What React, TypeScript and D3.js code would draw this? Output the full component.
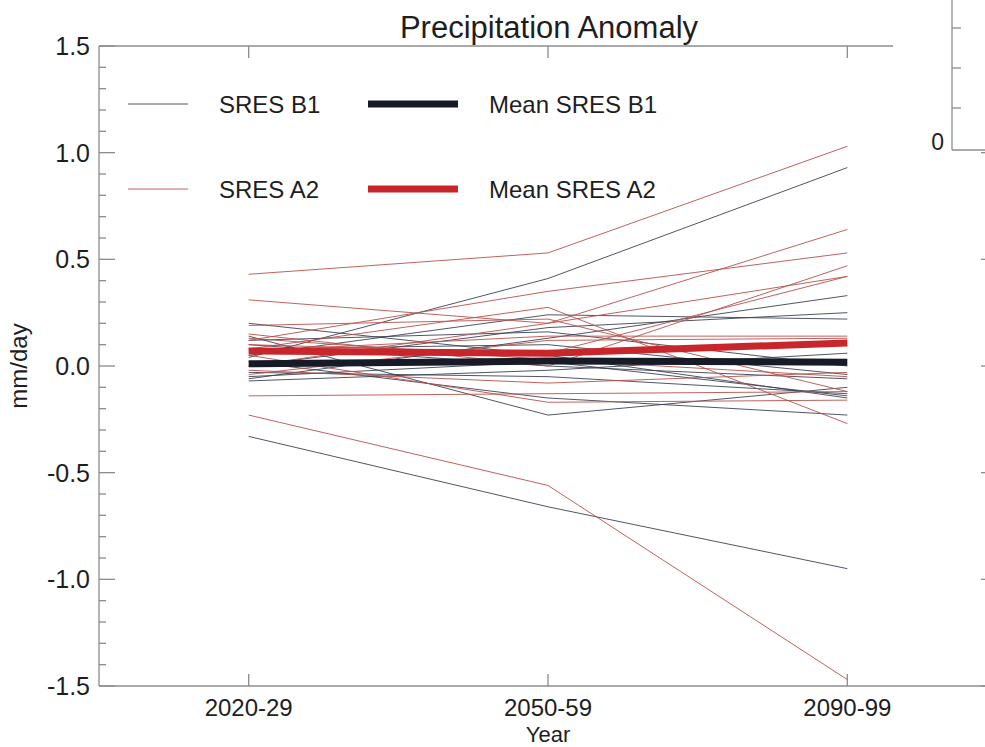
import React from "react";
import * as d3 from "d3";

const periods = ["2020-29", "2050-59", "2090-99"];
const yMajorTicks = [-1.5, -1.0, -0.5, 0.0, 0.5, 1.0, 1.5];

// Individual model runs, SRES B1 (mm/day at each period)
const b1Runs: number[][] = [
  [0.04, 0.41, 0.93],
  [-0.33, -0.66, -0.95],
  [0.2, 0.05, -0.15],
  [0.14, -0.23, -0.1],
  [-0.06, 0.13, 0.33],
  [0.0, 0.18, 0.25],
  [0.05, 0.24, 0.22],
  [-0.07, -0.02, 0.06],
  [0.08, 0.1, -0.04],
  [-0.03, -0.05, -0.13],
  [0.02, -0.15, -0.23],
  [0.1, 0.0, -0.06],
  [-0.05, 0.02, -0.14],
  [0.12, 0.16, 0.0],
];

// Individual model runs, SRES A2
const a2Runs: number[][] = [
  [0.43, 0.53, 1.03],
  [0.31, 0.2, 0.42],
  [-0.23, -0.56, -1.47],
  [0.08, 0.275, -0.27],
  [0.12, 0.35, 0.53],
  [0.0, 0.2, 0.64],
  [-0.14, -0.13, -0.12],
  [0.15, 0.0, 0.47],
  [0.05, -0.17, -0.16],
  [-0.04, 0.12, 0.13],
  [0.1, 0.06, 0.42],
  [0.13, 0.03, -0.05],
  [-0.02, -0.08, -0.03],
  [0.19, 0.22, -0.12],
  [0.07, 0.14, 0.14],
];

const meanB1 = [0.01, 0.023, 0.018];
const meanA2 = [0.07, 0.06, 0.108];

const insetTicks = [28, 68, 108];

export default function App() {
  const W = 985;
  const H = 747;
  const x = d3.scaleLinear().domain([-0.5, 2.5]).range([99, 997]);
  const y = d3.scaleLinear().domain([-1.5, 1.5]).range([686, 46]);
  const line = d3
    .line<number>()
    .x((_, i) => x(i))
    .y((v) => y(v));

  const minorTicks = d3
    .range(-15, 16)
    .map((v) => v / 10)
    .filter((v) => Math.abs(v * 2 - Math.round(v * 2)) > 1e-6);

  const axisColor = "#8c8c8c";
  const textColor = "#1e1e1e";
  const font = "'Liberation Sans', Arial, Helvetica, sans-serif";
  const b1Color = "#3c4354";
  const a2Color = "#b9504c";
  const meanB1Color = "#171b27";
  const meanA2Color = "#c8262a";

  return (
    <svg
      width={W}
      height={H}
      style={{ position: "absolute", left: 0, top: 0, background: "#fff" }}
      fontFamily={font}
    >
      <rect x={0} y={0} width={W} height={H} fill="#fff" />
      {/* title */}
      <text x={549} y={38} textAnchor="middle" fontSize={31} fill={textColor}>
        Precipitation Anomaly
      </text>

      {/* data lines */}
      <g fill="none">
        {b1Runs.map((r, i) => (
          <path key={"b" + i} d={line(r) || ""} stroke={b1Color} strokeWidth={0.9} />
        ))}
        {a2Runs.map((r, i) => (
          <path key={"a" + i} d={line(r) || ""} stroke={a2Color} strokeWidth={0.9} />
        ))}
        <path d={line(meanB1) || ""} stroke={meanB1Color} strokeWidth={7} />
        <path d={line(meanA2) || ""} stroke={meanA2Color} strokeWidth={7} />
      </g>

      {/* frame */}
      <g stroke={axisColor} strokeWidth={1.3} fill="none">
        <line x1={x(-0.5)} x2={x(-0.5)} y1={y(1.5)} y2={y(-1.5)} />
        <line x1={x(-0.5)} x2={W} y1={y(-1.5)} y2={y(-1.5)} />
        <line x1={x(-0.5)} x2={x(2.5)} y1={y(1.5)} y2={y(1.5)} />
        <line x1={x(2.5)} x2={x(2.5)} y1={y(1.5)} y2={y(-1.5)} />
        {yMajorTicks.map((t) => (
          <g key={"ym" + t}>
            <line x1={x(-0.5)} x2={x(-0.5) + 16} y1={y(t)} y2={y(t)} />
            <line x1={x(2.5)} x2={x(2.5) - 16} y1={y(t)} y2={y(t)} />
          </g>
        ))}
        {minorTicks.map((t) => (
          <g key={"yn" + t}>
            <line x1={x(-0.5)} x2={x(-0.5) + 7} y1={y(t)} y2={y(t)} />
            <line x1={x(2.5)} x2={x(2.5) - 7} y1={y(t)} y2={y(t)} />
          </g>
        ))}
        {periods.map((p, i) => (
          <g key={"xt" + p}>
            <line x1={x(i)} x2={x(i)} y1={y(-1.5)} y2={y(-1.5) - 12} />
            <line x1={x(i)} x2={x(i)} y1={y(1.5)} y2={y(1.5) + 12} />
          </g>
        ))}
      </g>

      {/* y tick labels */}
      {yMajorTicks.map((t) => (
        <text
          key={"yl" + t}
          x={90}
          y={y(t)}
          dy="0.36em"
          textAnchor="end"
          fontSize={25}
          fill={textColor}
        >
          {t.toFixed(1)}
        </text>
      ))}
      {/* x tick labels */}
      {periods.map((p, i) => (
        <text key={"xl" + p} x={x(i)} y={716} textAnchor="middle" fontSize={24} fill={textColor}>
          {p}
        </text>
      ))}
      <text x={548} y={742} textAnchor="middle" fontSize={22} fill={textColor}>
        Year
      </text>
      <text
        transform={`translate(27, ${y(0)}) rotate(-90)`}
        textAnchor="middle"
        fontSize={24}
        fill={textColor}
      >
        mm/day
      </text>

      {/* legend */}
      <g>
        <line x1={128} x2={188} y1={104} y2={104} stroke={b1Color} strokeWidth={0.9} />
        <text x={219} y={104} dy="0.36em" fontSize={24} fill={textColor}>SRES B1</text>
        <line x1={368} x2={458} y1={104} y2={104} stroke={meanB1Color} strokeWidth={7} />
        <text x={489} y={104} dy="0.36em" fontSize={24} fill={textColor}>Mean SRES B1</text>
        <line x1={128} x2={188} y1={189} y2={189} stroke={a2Color} strokeWidth={0.9} />
        <text x={219} y={189} dy="0.36em" fontSize={24} fill={textColor}>SRES A2</text>
        <line x1={368} x2={458} y1={189} y2={189} stroke={meanA2Color} strokeWidth={7} />
        <text x={489} y={189} dy="0.36em" fontSize={24} fill={textColor}>Mean SRES A2</text>
      </g>

      {/* inset panel in the top-right corner */}
      <rect x={893} y={0} width={W - 893} height={152} fill="#fff" />
      <g stroke={axisColor} strokeWidth={1.3}>
        <line x1={952} x2={952} y1={0} y2={150} />
        <line x1={952} x2={W} y1={150} y2={150} />
        {insetTicks.map((t) => (
          <line key={"it" + t} x1={952} x2={961} y1={t} y2={t} />
        ))}
      </g>
      <text x={944} y={150} textAnchor="end" fontSize={23} fill={textColor}>
        0
      </text>
    </svg>
  );
}
